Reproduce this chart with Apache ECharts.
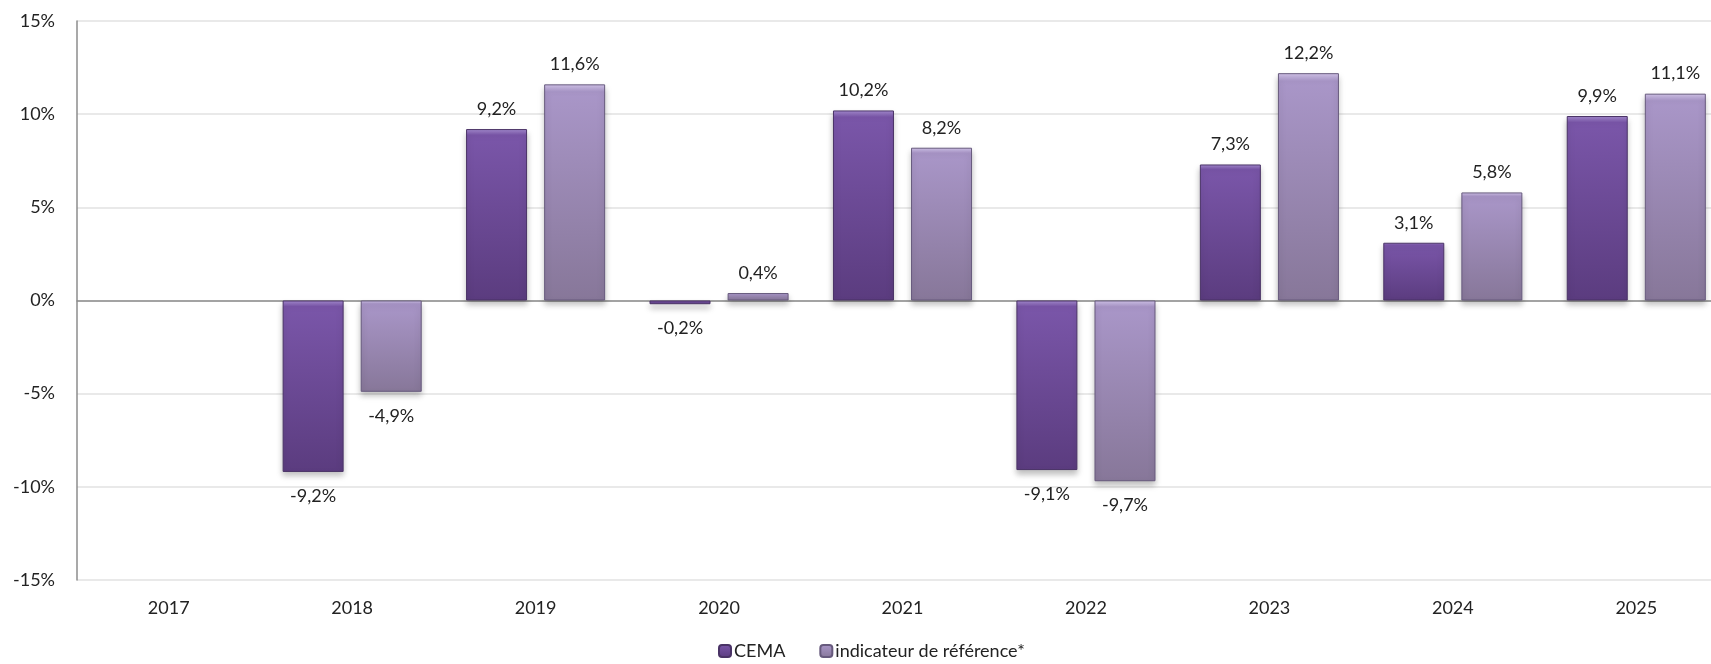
<!DOCTYPE html>
<html>
<head>
<meta charset="utf-8">
<script src="https://cdn.jsdelivr.net/npm/echarts@6/dist/echarts.min.js"></script>
<style>
  html, body { margin: 0; padding: 0; background: #fff; }
  #chart { width: 1711px; height: 664px; }
</style>
</head>
<body>
<div id="chart"></div>
<script>
// years on the x axis
const years = ['2017', '2018', '2019', '2020', '2021', '2022', '2023', '2024', '2025'];
// yearly performance, in %
const cema = [null, -9.2, 9.2, -0.2, 10.2, -9.1, 7.3, 3.1, 9.9];
const reference = [null, -4.9, 11.6, 0.4, 8.2, -9.7, 12.2, 5.8, 11.1];
const seriesNames = ['CEMA', 'indicateur de référence*'];

const font = 'Lato, "Open Sans", sans-serif';

function barGradient(light, top, bottom) {
  return new echarts.graphic.LinearGradient(0, 0, 0, 1, [
    { offset: 0, color: light },
    { offset: 0.035, color: top },
    { offset: 1, color: bottom }
  ]);
}

function fmt(v) {
  return v.toFixed(1).replace('.', ',') + '%';
}

function labelled(values) {
  // negative values get their label under the bar
  return values.map(v => {
    if (v === null) return null;
    return {
      value: v,
      label: { position: v < 0 ? 'bottom' : 'top', distance: v < 0 ? 15 : 11 }
    };
  });
}

const chart = echarts.init(document.getElementById('chart'));

const option = {
  animation: false,
  textStyle: { fontFamily: font },
  grid: {
    left: 77, top: 21, width: 1651, height: 559,
    containLabel: false,
    outerBoundsMode: 'none'   // the last category runs off the right edge
  },
  legend: {
    left: 713,
    top: 637,
    itemWidth: 12,
    itemHeight: 12,
    itemGap: 34,
    textStyle: { fontSize: 18, color: '#222', padding: [0, 0, 0, -2] },
    data: seriesNames
  },
  xAxis: [
    {
      type: 'category',
      data: years,
      axisLine: { show: false, onZero: false },
      axisTick: { show: false },
      axisLabel: { fontSize: 18, color: '#222', margin: 19 }
    },
    {
      // zero line
      type: 'category',
      data: years,
      axisLine: { show: true, onZero: true, lineStyle: { color: '#8c8c8c', width: 1.5 } },
      axisTick: { show: false },
      axisLabel: { show: false }
    }
  ],
  yAxis: {
    type: 'value',
    min: -15,
    max: 15,
    interval: 5,
    axisLine: { show: true, lineStyle: { color: '#8c8c8c', width: 1.5 } },
    axisTick: { show: false },
    splitLine: { lineStyle: { color: '#e2e2e2', width: 1.5 } },
    axisLabel: { fontSize: 18, color: '#222', margin: 22, formatter: v => v + '%' }
  },
  series: [
    {
      name: seriesNames[0],
      type: 'bar',
      barWidth: 61,
      barGap: '28%',
      data: labelled(cema),
      itemStyle: {
        color: barGradient('#a58bd0', '#7a56a9', '#5b3c7f'),
        borderColor: '#4a3366',
        borderWidth: 1,
        shadowColor: 'rgba(0,0,0,0.25)',
        shadowBlur: 6,
        shadowOffsetY: 4
      },
      label: { show: true, fontSize: 18, color: '#222', formatter: p => fmt(p.value) }
    },
    {
      name: seriesNames[1],
      type: 'bar',
      barWidth: 61,
      barGap: '28%',
      data: labelled(reference),
      itemStyle: {
        color: barGradient('#d2c4ea', '#a996c8', '#877799'),
        borderColor: '#675a7d',
        borderWidth: 1,
        shadowColor: 'rgba(0,0,0,0.25)',
        shadowBlur: 6,
        shadowOffsetY: 4
      },
      label: { show: true, fontSize: 18, color: '#222', formatter: p => fmt(p.value) }
    }
  ]
};

chart.setOption(option);
</script>
</body>
</html>
